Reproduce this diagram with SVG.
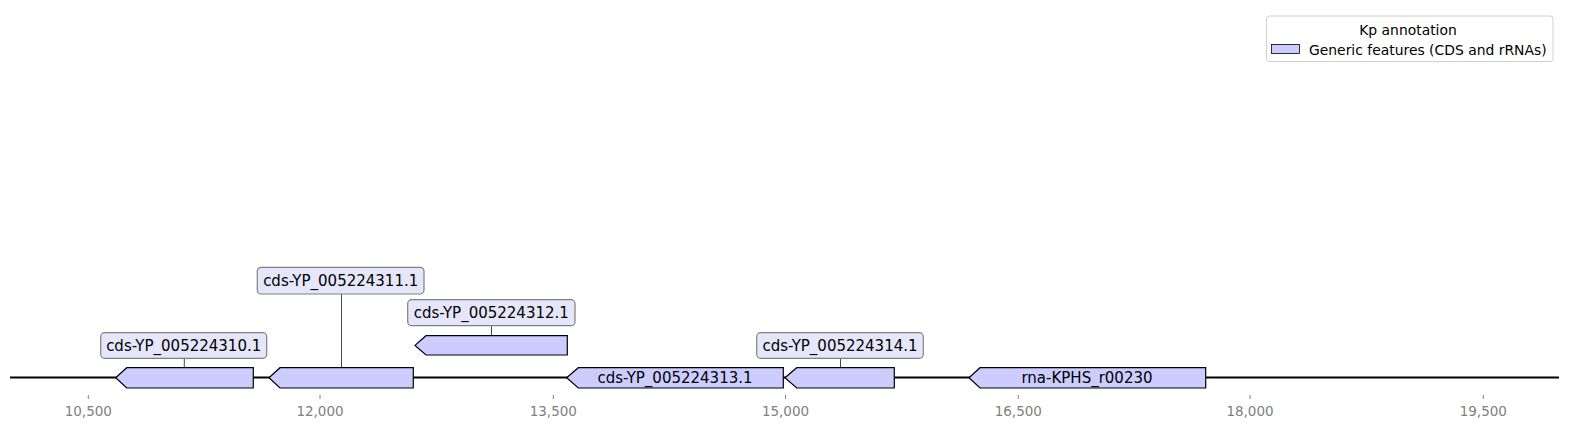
<svg xmlns="http://www.w3.org/2000/svg" width="1570" height="428" viewBox="0 0 1570 428">
<style>
.feat{fill:#ccccff;stroke:#000;stroke-width:1.2;stroke-linejoin:miter}
.lbox{fill:#e6e6fa;stroke:#808080;stroke-width:1.2}
.lt{font-family:"DejaVu Sans",sans-serif;font-size:15px;fill:#000;text-anchor:middle}
.tick{stroke:#808080;stroke-width:1}
.tl{font-family:"DejaVu Sans",sans-serif;font-size:13.5px;fill:#808080;text-anchor:middle}
.conn{stroke:#333;stroke-width:0.9}
</style>
<rect width="1570" height="428" fill="#fff"/>
<g id="legend">
<rect x="1266.5" y="16" width="286.5" height="45.5" rx="3" fill="#fff" stroke="#d0d0d0" stroke-width="1"/>
<text x="1408" y="35" font-family="DejaVu Sans, sans-serif" font-size="13.9" text-anchor="middle" fill="#000">Kp annotation</text>
<rect x="1271.5" y="44.5" width="28" height="9" fill="#ccccff" stroke="#000" stroke-width="0.8"/>
<text x="1309" y="55" font-family="DejaVu Sans, sans-serif" font-size="13.9" fill="#000">Generic features (CDS and rRNAs)</text>
</g>
<g id="axis">
<line x1="10" y1="377.5" x2="1559" y2="377.5" stroke="#000" stroke-width="1.8"/>
<line class="tick" x1="88.3" y1="395" x2="88.3" y2="399"/>
<line class="tick" x1="320" y1="395" x2="320" y2="399"/>
<line class="tick" x1="553.3" y1="395" x2="553.3" y2="399"/>
<line class="tick" x1="785.5" y1="395" x2="785.5" y2="399"/>
<line class="tick" x1="1018.3" y1="395" x2="1018.3" y2="399"/>
<line class="tick" x1="1250" y1="395" x2="1250" y2="399"/>
<line class="tick" x1="1483.3" y1="395" x2="1483.3" y2="399"/>
<text class="tl" x="88.3" y="416">10,500</text>
<text class="tl" x="320" y="416">12,000</text>
<text class="tl" x="553.3" y="416">13,500</text>
<text class="tl" x="785.5" y="416">15,000</text>
<text class="tl" x="1018.3" y="416">16,500</text>
<text class="tl" x="1250" y="416">18,000</text>
<text class="tl" x="1483.3" y="416">19,500</text>
</g>
<g id="connectors">
<line class="conn" x1="184.3" y1="358.3" x2="184.3" y2="367.7"/>
<line class="conn" x1="341.5" y1="294" x2="341.5" y2="367.7"/>
<line class="conn" x1="491.5" y1="325.7" x2="491.5" y2="335.7"/>
<line class="conn" x1="840.5" y1="358.3" x2="840.5" y2="367.7"/>
</g>
<g id="feature-310">
<polygon class="feat" points="115.7,377.8 126.7,367.7 253.3,367.7 253.3,388 126.7,388"/>
<rect class="lbox" x="100.7" y="332.7" width="166" height="25.6" rx="4"/>
<text class="lt" x="183.7" y="351">cds-YP_005224310.1</text>
</g>
<g id="feature-311">
<polygon class="feat" points="269,377.8 280,367.7 413.3,367.7 413.3,388 280,388"/>
<rect class="lbox" x="257.3" y="267.3" width="166.7" height="26.7" rx="4"/>
<text class="lt" x="340.7" y="286">cds-YP_005224311.1</text>
</g>
<g id="feature-312">
<polygon class="feat" points="415,345.4 426,335.7 567.3,335.7 567.3,355 426,355"/>
<rect class="lbox" x="407.7" y="299.7" width="167.3" height="26" rx="4"/>
<text class="lt" x="491.3" y="318">cds-YP_005224312.1</text>
</g>
<g id="feature-313">
<polygon class="feat" points="566.7,377.8 578.3,367.7 783.3,367.7 783.3,388 578.3,388"/>
<text class="lt" x="675" y="383">cds-YP_005224313.1</text>
</g>
<g id="feature-314">
<polygon class="feat" points="785,377.8 796.7,367.7 894.3,367.7 894.3,388 796.7,388"/>
<rect class="lbox" x="756.7" y="332.7" width="166.6" height="25.6" rx="4"/>
<text class="lt" x="840" y="351">cds-YP_005224314.1</text>
</g>
<g id="feature-rna">
<polygon class="feat" points="969,377.8 980,367.7 1205.7,367.7 1205.7,388 980,388"/>
<text class="lt" x="1087" y="383">rna-KPHS_r00230</text>
</g>
</svg>
